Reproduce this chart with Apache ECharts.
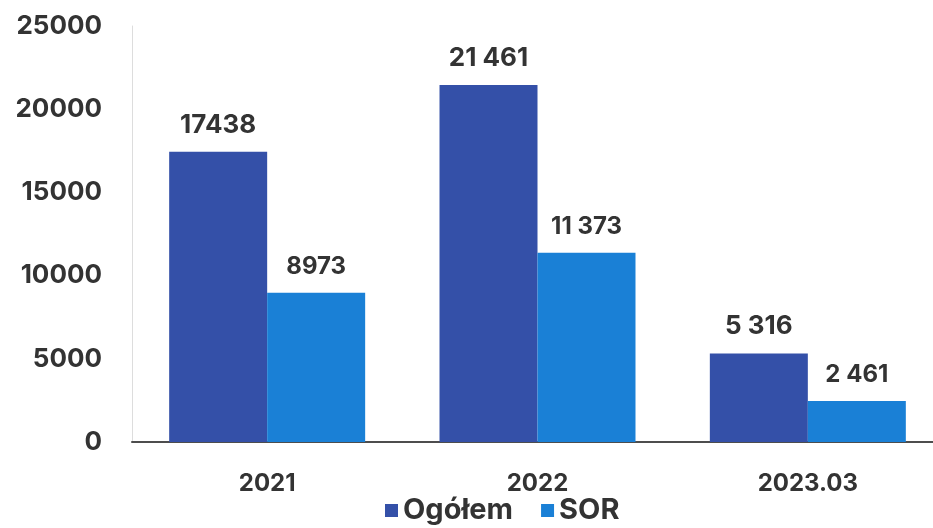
<!DOCTYPE html>
<html>
<head>
<meta charset="utf-8">
<script src="https://cdn.jsdelivr.net/npm/echarts@6/dist/echarts.min.js"></script>
<style>
  html, body { margin: 0; padding: 0; background: #fff; overflow: hidden; }
  #chart { width: 945px; height: 528px; }
</style>
</head>
<body>
<div id="chart"></div>
<script>
const categories = ['2021', '2022', '2023.03']
const ogolem = [17438, 21461, 5316]
const sor = [8973, 11373, 2461]
const ogolemLabels = ['17438', '21 461', '5 316']
const sorLabels = ['8973', '11 373', '2 461']
const yTicks = [0, 5000, 10000, 15000, 20000, 25000]

const font = 'Inter, "Open Sans", sans-serif'
const textColor = '#333333'

// canvas is a bit wider than the window, the source chart was cut on the right
const chart = echarts.init(document.getElementById('chart'))

chart.setOption({
    animation: false,
    textStyle: { fontFamily: font },
    grid: {
        left: 132,
        top: 26,
        right: 2,
        bottom: 86
    },
    legend: {
        bottom: -2,
        left: 380,
        itemWidth: 13,
        itemHeight: 13,
        itemGap: 28,
        icon: 'rect',
        textStyle: { fontSize: 29, fontWeight: 'bold', color: textColor, fontFamily: font }
    },
    xAxis: {
        type: 'category',
        data: categories,
        axisTick: { show: false },
        axisLine: { lineStyle: { color: '#4d4d4d', width: 2 } },
        axisLabel: { fontSize: 24, fontWeight: 'bold', color: textColor, margin: 30 }
    },
    yAxis: {
        type: 'value',
        min: yTicks[0],
        max: yTicks[yTicks.length - 1],
        interval: 5000,
        splitLine: { show: false },
        axisLine: { show: true, lineStyle: { color: '#dddddd', width: 1 } },
        axisLabel: { fontSize: 26, fontWeight: 'bold', color: textColor, margin: 30, formatter: v => String(v) }
    },
    series: [
        {
            name: 'Ogółem',
            type: 'bar',
            data: ogolem,
            barGap: '0%',
            barCategoryGap: '27.5%',
            itemStyle: { color: '#3450a8' },
            label: {
                show: true,
                position: 'top',
                distance: 14,
                fontSize: 26,
                fontWeight: 'bold',
                color: textColor,
                formatter: p => ogolemLabels[p.dataIndex]
            }
        },
        {
            name: 'SOR',
            type: 'bar',
            data: sor,
            itemStyle: { color: '#1a80d6' },
            label: {
                show: true,
                position: 'top',
                distance: 14,
                fontSize: 24,
                fontWeight: 'bold',
                color: textColor,
                formatter: p => sorLabels[p.dataIndex]
            }
        }
    ]
})
</script>
</body>
</html>
